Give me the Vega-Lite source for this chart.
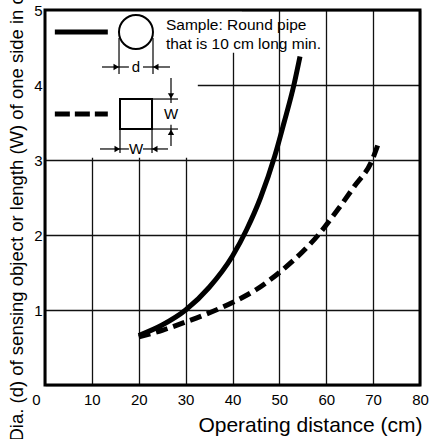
{
  "$schema": "https://vega.github.io/schema/vega-lite/v6.json",
  "autosize": "none",
  "padding": {"left": 45, "top": 10, "right": 16, "bottom": 54},
  "width": 375,
  "height": 375,
  "background": "white",
  "config": {
    "view": {"stroke": null},
    "font": "Liberation Sans",
    "axis": {"labelFont": "Liberation Sans", "titleFont": "Liberation Sans", "labelColor": "black", "titleColor": "black", "titleFontWeight": "normal"}
  },
  "datasets": {
    "solid": [
      {"x": 20, "y": 0.66}, {"x": 25, "y": 0.8}, {"x": 30, "y": 1.0}, {"x": 35, "y": 1.3},
      {"x": 40, "y": 1.72}, {"x": 43, "y": 2.07}, {"x": 46, "y": 2.5}, {"x": 49, "y": 3.05},
      {"x": 51, "y": 3.5}, {"x": 53.1, "y": 4.0}, {"x": 54.4, "y": 4.38}
    ],
    "dashed": [
      {"x": 20, "y": 0.64}, {"x": 25, "y": 0.73}, {"x": 30, "y": 0.84}, {"x": 35, "y": 0.96},
      {"x": 40, "y": 1.1}, {"x": 45, "y": 1.27}, {"x": 50, "y": 1.5}, {"x": 55, "y": 1.78},
      {"x": 58.3, "y": 2.0}, {"x": 62, "y": 2.3}, {"x": 66, "y": 2.65}, {"x": 69.8, "y": 3.0},
      {"x": 71, "y": 3.2}
    ],
    "boxes": [
      {"x": 0, "x2": 32.6, "y": 3.03, "y2": 5},
      {"x": 0, "x2": 42, "y": 4.43, "y2": 5}
    ],
    "legendSolid": [{"x": 2.1, "x2": 13.4, "y": 4.707, "y2": 4.707}],
    "legendDashed": [{"x": 2.1, "x2": 13.4, "y": 3.613, "y2": 3.613}],
    "dims": [
      {"x": 15.79, "x2": 15.79, "y": 4.627, "y2": 4.147},
      {"x": 23.04, "x2": 23.04, "y": 4.627, "y2": 4.147},
      {"x": 12.16, "x2": 17.9, "y": 4.24, "y2": 4.24},
      {"x": 20.9, "x2": 26.67, "y": 4.24, "y2": 4.24},
      {"x": 22.83, "x2": 28.37, "y": 3.813, "y2": 3.813},
      {"x": 22.83, "x2": 28.37, "y": 3.413, "y2": 3.413},
      {"x": 26.88, "x2": 26.88, "y": 4.093, "y2": 3.76},
      {"x": 26.88, "x2": 26.88, "y": 3.47, "y2": 3.187},
      {"x": 16.0, "x2": 16.0, "y": 3.413, "y2": 3.093},
      {"x": 22.83, "x2": 22.83, "y": 3.413, "y2": 3.093},
      {"x": 11.73, "x2": 17.9, "y": 3.147, "y2": 3.147},
      {"x": 20.9, "x2": 26.24, "y": 3.147, "y2": 3.147}
    ],
    "arrows": [
      {"x": 15.2, "y": 4.24, "dir": "right"},
      {"x": 23.63, "y": 4.24, "dir": "left"},
      {"x": 26.88, "y": 3.855, "dir": "down"},
      {"x": 26.88, "y": 3.371, "dir": "up"},
      {"x": 15.41, "y": 3.147, "dir": "right"},
      {"x": 23.42, "y": 3.147, "dir": "left"}
    ],
    "circle": [{"x": 19.41, "y": 4.707}],
    "square": [{"x": 16.0, "x2": 22.83, "y": 3.413, "y2": 3.813}],
    "note": [
      {"x": 25.8, "y": 4.8, "label": "Sample: Round pipe"},
      {"x": 25.8, "y": 4.547, "label": "that is 10 cm long min."}
    ],
    "dimText": [
      {"x": 19.41, "y": 4.24, "label": "d"},
      {"x": 26.88, "y": 3.613, "label": "W"},
      {"x": 19.41, "y": 3.147, "label": "W"}
    ],
    "frame": [{"x": 0, "x2": 80, "y": 0, "y2": 5}]
  },
  "encoding": {
    "x": {
      "field": "x", "type": "quantitative",
      "scale": {"domain": [0, 80], "nice": false, "zero": false},
      "axis": {
        "values": [0, 10, 20, 30, 40, 50, 60, 70, 80],
        "grid": true, "gridColor": "#111", "gridWidth": 1.3, "gridOpacity": 1,
        "domain": false, "ticks": false,
        "labelFontSize": 15, "labelPadding": 7, "labelFlush": false,
        "labelAlign": {"condition": {"test": "datum.value == 0", "value": "right"}, "value": "center"},
        "labelOffset": {"condition": {"test": "datum.value == 0", "value": -5}, "value": 0},
        "title": "Operating distance (cm)", "titleFontSize": 21,
        "titleX": 377, "titleY": 46, "titleAlign": "right", "titleBaseline": "alphabetic"
      }
    },
    "y": {
      "field": "y", "type": "quantitative",
      "scale": {"domain": [0, 5], "nice": false, "zero": false},
      "axis": {
        "values": [0, 1, 2, 3, 4, 5],
        "grid": true, "gridColor": "#111", "gridWidth": 1.3, "gridOpacity": 1,
        "domain": false, "ticks": false,
        "labelFontSize": 15, "labelPadding": 3, "labelFlush": false,
        "labelExpr": "datum.value == 0 ? '' : datum.label",
        "title": "Dia. (d) of sensing object or length (W) of one side in cm",
        "titleFontSize": 18.5, "titleAngle": -90,
        "titleX": -23, "titleY": 431, "titleAlign": "left", "titleBaseline": "alphabetic"
      }
    }
  },
  "layer": [
    {
      "data": {"name": "boxes"},
      "mark": {"type": "rect", "fill": "white", "stroke": null},
      "encoding": {"x2": {"field": "x2"}, "y2": {"field": "y2"}}
    },
    {
      "data": {"name": "solid"},
      "mark": {"type": "line", "color": "black", "strokeWidth": 5, "interpolate": "monotone"},
      "encoding": {}
    },
    {
      "data": {"name": "dashed"},
      "mark": {"type": "line", "color": "black", "strokeWidth": 5, "strokeDash": [12, 6], "interpolate": "monotone"},
      "encoding": {}
    },
    {
      "data": {"name": "legendSolid"},
      "mark": {"type": "rule", "color": "black", "strokeWidth": 5},
      "encoding": {"x2": {"field": "x2"}, "y2": {"field": "y2"}}
    },
    {
      "data": {"name": "legendDashed"},
      "mark": {"type": "rule", "color": "black", "strokeWidth": 5, "strokeDash": [15, 5]},
      "encoding": {"x2": {"field": "x2"}, "y2": {"field": "y2"}}
    },
    {
      "data": {"name": "dims"},
      "mark": {"type": "rule", "color": "black", "strokeWidth": 1.2},
      "encoding": {"x2": {"field": "x2"}, "y2": {"field": "y2"}}
    },
    {
      "data": {"name": "arrows"},
      "mark": {"type": "point", "filled": true, "color": "black", "size": 40, "opacity": 1},
      "encoding": {
        "shape": {"field": "dir", "type": "nominal", "legend": null,
          "scale": {"domain": ["right", "left", "up", "down"], "range": ["triangle-right", "triangle-left", "triangle-up", "triangle-down"]}}
      }
    },
    {
      "data": {"name": "circle"},
      "mark": {"type": "point", "shape": "circle", "filled": false, "stroke": "black", "strokeWidth": 2, "size": 1156, "opacity": 1},
      "encoding": {}
    },
    {
      "data": {"name": "square"},
      "mark": {"type": "rect", "fill": "white", "stroke": "black", "strokeWidth": 2},
      "encoding": {"x2": {"field": "x2"}, "y2": {"field": "y2"}}
    },
    {
      "data": {"name": "note"},
      "mark": {"type": "text", "align": "left", "baseline": "middle", "fontSize": 15.5, "font": "Liberation Sans", "color": "black"},
      "encoding": {"text": {"field": "label"}}
    },
    {
      "data": {"name": "dimText"},
      "mark": {"type": "text", "align": "center", "baseline": "middle", "fontSize": 15, "font": "Liberation Sans", "color": "black"},
      "encoding": {"text": {"field": "label"}}
    },
    {
      "data": {"name": "frame"},
      "mark": {"type": "rect", "fill": null, "filled": false, "stroke": "black", "strokeWidth": 3},
      "encoding": {"x2": {"field": "x2"}, "y2": {"field": "y2"}}
    }
  ]
}
